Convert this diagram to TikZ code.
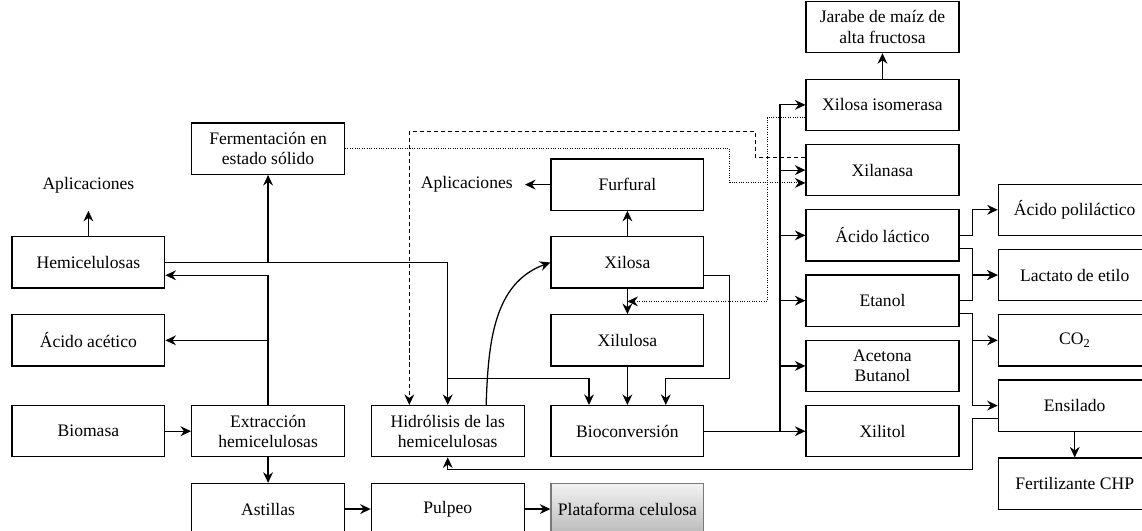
\documentclass[tikz,border=0pt]{standalone}
\usepackage{fontspec}
\setmainfont{Liberation Serif}
\usetikzlibrary{calc, positioning, arrows.meta}
\definecolor{gris}{RGB}{120,120,120}

\tikzset{
	caja/.style={shape=rectangle, draw, line width=0.9pt, minimum width=3.82cm, minimum height=1.28cm, inner sep=2pt, align=center},
	cajagris/.style={caja, draw=gris, top color=gray!10, bottom color=gray!55},
	texto/.style={shape=rectangle, minimum height=1.28cm, inner xsep=0.3cm},
	flecha/.style={line width=0.9pt, -{Stealth[length=7.5pt, width=7pt, inset=2.5pt]}},
	punteado/.style={flecha, line width=0.7pt, densely dotted},
	discontinuo/.style={flecha, line width=0.7pt, dash pattern=on 3pt off 2pt},
}

\begin{document}
\begin{tikzpicture}[font=\fontsize{12.5}{14.5}\selectfont]
		\useasboundingbox (0,0) rectangle (28.55,13.25);
		
		% Biomasa y extraccion
		\node[caja] (biomasa) at (2.21,2.47) {Biomasa};
		\node[caja, right = 0.64cm of biomasa] (extraccion) {Extracción\\hemicelulosas};
		\node[caja, below = 0.635cm of extraccion] (astillas) {Astillas};
		\node[caja, above = 0.96cm of biomasa] (acetico) {Ácido acético};
		\node[caja, above = 0.635cm of acetico] (hemi) {Hemicelulosas};
		\node[texto, above = 0.635cm of hemi] (aplicaciones1) {Aplicaciones};
		\node[caja, above = 5.75cm of extraccion] (fermentacion) {Fermentación en\\estado sólido};
		
		% Hidrolisis y bioconversion
		\node[caja, right = 0.64cm of extraccion] (hidrolisis) {Hidrólisis de las\\hemicelulosas};
		\node[caja, below = 0.635cm of hidrolisis] (pulpeo) {Pulpeo};
		\node[caja, right = 0.64cm of hidrolisis] (bioconv) {Bioconversión};
		\node[cajagris, below = 0.635cm of bioconv] (plataforma) {Plataforma celulosa};
		\node[caja, above = 0.96cm of bioconv] (xilulosa) {Xilulosa};
		\node[caja, above = 0.635cm of xilulosa] (xilosa) {Xilosa};
		\node[caja, above = 0.635cm of xilosa] (furfural) {Furfural};
		\node[texto, left = 0.635cm of furfural] (aplicaciones2) {Aplicaciones};
		
		% Productos
		\node[caja, right = 2.525cm of bioconv] (xilitol) {Xilitol};
		\node[caja, above = 0.32cm of xilitol] (acetona) {Acetona\\Butanol};
		\node[caja, above = 0.32cm of acetona] (etanol) {Etanol};
		\node[caja, above = 0.32cm of etanol] (lactico) {Ácido láctico};
		\node[caja, above = 0.32cm of lactico] (xilanasa) {Xilanasa};
		\node[caja, above = 0.32cm of xilanasa] (isomerasa) {Xilosa isomerasa};
		\node[caja, above = 0.635cm of isomerasa] (jarabe) {Jarabe de maíz de\\alta fructosa};
		
		% Derivados
		\node[caja, below right = 0cm and 0.955cm of xilitol] (fertilizante) {Fertilizante CHP};
		\node[caja, above = 0.64cm of fertilizante] (ensilado) {Ensilado};
		\node[caja, above = 0.32cm of ensilado] (co2) {CO\textsubscript{2}};
		\node[caja, above = 0.32cm of co2] (lactato) {Lactato de etilo};
		\node[caja, above = 0.32cm of lactato] (polilactico) {Ácido poliláctico};
		
		% Extraccion
		\path[flecha] (biomasa) edge (extraccion);
		\path[flecha] (extraccion) edge (astillas);
		\path[flecha] (astillas) edge (pulpeo);
		\path[flecha] (pulpeo) edge (plataforma);
		\draw[flecha] (extraccion.north) |- ($(hemi.east)+(0,-0.32)$);
		\draw[flecha] (extraccion.north |- acetico.east) -- (acetico.east);
		\path[flecha] (hemi) edge (aplicaciones1);
		\draw[flecha] (hemi.east) -| (hidrolisis.north);
		\draw[flecha] (hemi.east -| fermentacion.south) -- (fermentacion.south);
		\draw[flecha] ($(hidrolisis.north)+(0,0.66)$) -| ($(bioconv.north)+(-0.96,0)$);
		
		% Xilosa
		\draw[flecha] ($(hidrolisis.north)+(0.96,0)$) to[out=88, in=200] (xilosa.west);
		\path[flecha] (xilosa) edge (furfural);
		\path[flecha] (xilosa) edge (xilulosa);
		\path[flecha] (furfural) edge (aplicaciones2);
		\path[flecha] (xilulosa) edge (bioconv);
		\draw[flecha] ($(xilosa.east)+(0,-0.32)$) -- ++(0.635,0) |- ($(bioconv.north)+(0.96,0.66)$) -- ++(0,-0.66);
		
		% Bioconversion a productos
		\path[flecha] (bioconv) edge (xilitol);
		\coordinate (bus) at ($(xilitol.west)+(-0.635,0)$);
		\foreach \n in {acetona, etanol, lactico, xilanasa, isomerasa}
			\draw[flecha] (bus) |- (\n.west);
		\path[flecha] (isomerasa) edge (jarabe);
		
		% Productos a derivados
		\draw[flecha] (lactico.east) -- ++(0.32,0) |- (polilactico.west);
		\draw[flecha] ($(lactico.east)+(0,-0.32)$) -- ++(0.32,0) |- (lactato.west);
		\draw[flecha] (etanol.east) -- ++(0.32,0) |- (lactato.west);
		\draw[flecha] ($(etanol.east)+(0,-0.32)$) -- ++(0.32,0) |- (co2.west);
		\draw[flecha] ($(etanol.east)+(0,-0.32)$) -- ++(0.32,0) |- (ensilado.west);
		\path[flecha] (ensilado) edge (fertilizante);
		\draw[flecha] ($(ensilado.west)+(0,-0.32)$) -- ++(-0.635,0) |- ($(hidrolisis.south)+(0,-0.3)$) -- (hidrolisis.south);
		
		% Enzimas
		\draw[punteado] (fermentacion.east) -| ($(xilosa.east |- xilanasa.west)+(0.635,-0.32)$) -- ($(xilanasa.west)+(0,-0.32)$);
		\draw[discontinuo] ($(xilanasa.west)+(0,0.32)$) -- ++(-1.25,0) |- ($(isomerasa.south -| hidrolisis.north)+(-0.96,0)$) -- ($(hidrolisis.north)+(-0.96,0)$);
		\draw[punteado] ($(isomerasa.west)+(0,-0.32)$) -- ++(-0.96,0) |- ($(xilosa.south)!0.5!(xilulosa.north)$);
	\end{tikzpicture}
\end{document}
